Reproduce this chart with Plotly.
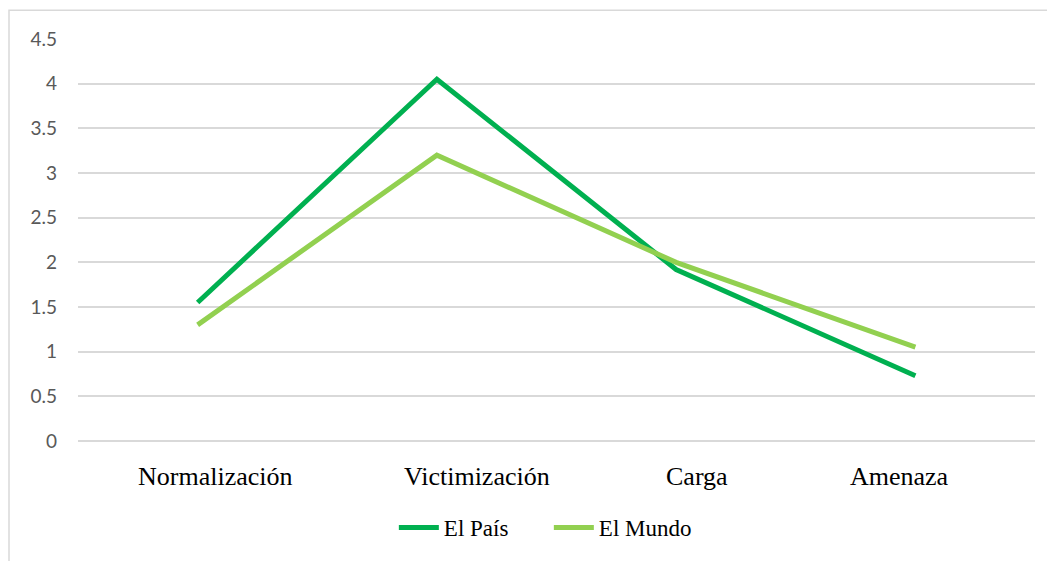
import plotly.graph_objects as go

categories = ["Normalización", "Victimización", "Carga", "Amenaza"]
el_pais = [1.55, 4.05, 1.92, 0.73]
el_mundo = [1.30, 3.20, 2.00, 1.05]
y_ticks = [0, 0.5, 1, 1.5, 2, 2.5, 3, 3.5, 4, 4.5]
y_tick_text = ["0", "0.5", "1", "1.5", "2", "2.5", "3", "3.5", "4", "4.5"]

# the category labels in the original sit a little off their points
label_shift = [18, 40, 21, -16]

# page body has an 8px margin, so the figure is a bit smaller than the window
W, H = 1047, 553
ml, mr, mt, mb = 70, 20, 31, 118
pw, ph = W - ml - mr, H - mt - mb

fig = go.Figure()
fig.add_trace(go.Scatter(x=categories, y=el_pais, name="El País", mode="lines",
                         line=dict(color="#00B050", width=5)))
fig.add_trace(go.Scatter(x=categories, y=el_mundo, name="El Mundo", mode="lines",
                         line=dict(color="#92D050", width=5)))

for cat, dx in zip(categories, label_shift):
    fig.add_annotation(x=cat, xref="x", y=0, yref="paper", text=cat,
                       showarrow=False, xanchor="center", yanchor="middle",
                       xshift=dx, yshift=-35,
                       font=dict(family="Liberation Serif", size=26, color="#000000"))

# chart frame (light grey border, runs off the right and bottom edges)
fig.add_shape(type="rect", xref="paper", yref="paper",
              x0=(1 - ml) / pw, x1=(W + 10 - ml) / pw,
              y0=-(mb + 10) / ph, y1=1 + (mt - 2) / ph,
              line=dict(color="#D9D9D9", width=1.5), layer="below")

fig.update_layout(
    width=W, height=H,
    margin=dict(l=ml, r=mr, t=mt, b=mb),
    paper_bgcolor="white", plot_bgcolor="white",
    showlegend=True,
    legend=dict(orientation="h", x=0.492, xanchor="center", y=-0.215, yanchor="middle",
                font=dict(family="Liberation Serif", size=23, color="#000000"),
                itemwidth=40, entrywidth=100, tracegroupgap=0),
    xaxis=dict(type="category", range=[-0.5, 3.5], showgrid=False, zeroline=False,
               showline=False, ticks="", showticklabels=False),
    yaxis=dict(range=[0, 4.5], tickvals=y_ticks, ticktext=y_tick_text,
               showgrid=True, gridcolor="#D9D9D9", gridwidth=1.5,
               zeroline=True, zerolinecolor="#D9D9D9", zerolinewidth=1.5,
               showline=False, ticks="", ticklabelstandoff=20,
               tickfont=dict(family="Lato", size=19, color="#595959")),
)

fig.write_html("out.html")
